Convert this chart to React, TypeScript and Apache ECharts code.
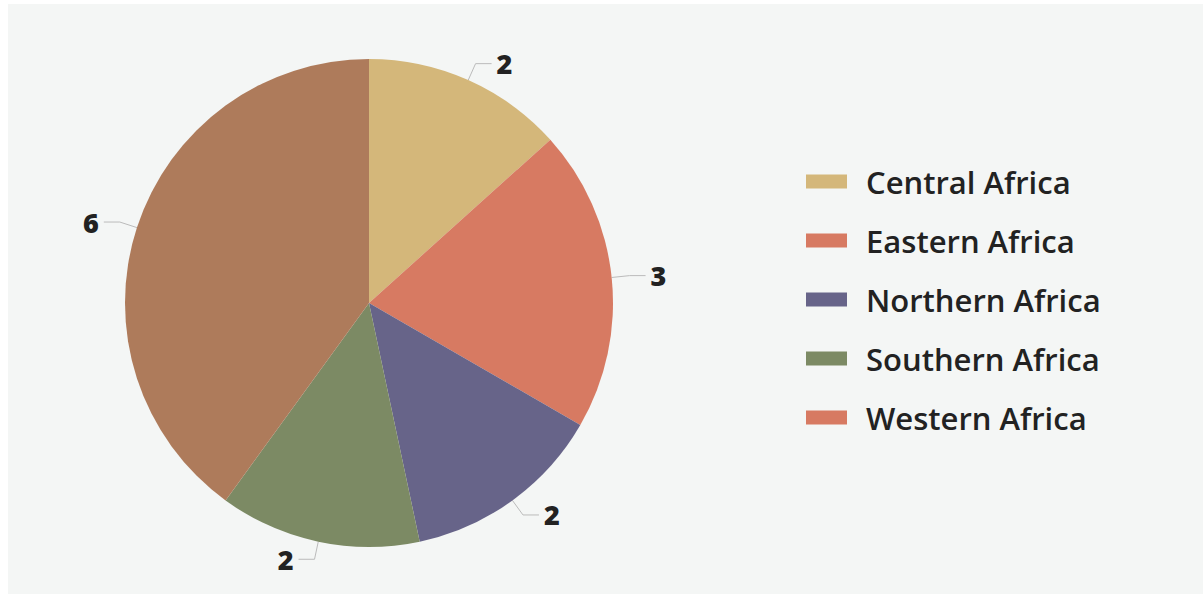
import React, { useEffect, useRef } from "react";
import * as echarts from "echarts";

const categories = ["Central Africa", "Eastern Africa", "Northern Africa", "Southern Africa", "Western Africa"];
const values = [2, 3, 2, 2, 6];
const sliceColors = ["#D4B77A", "#D77A62", "#676489", "#7C8A64", "#AE7B5B"];
const legendColors = ["#D4B77A", "#D77A62", "#676489", "#7C8A64", "#D77A62"];

export default function App() {
  const ref = useRef<HTMLDivElement>(null);
  useEffect(() => {
    if (!ref.current) return;
    const chart = echarts.init(ref.current, undefined, { renderer: "svg" });
    chart.setOption({
      animation: false,
      backgroundColor: "#F4F6F5",
      textStyle: { fontFamily: "Open Sans" },
      legend: {
        orient: "vertical",
        left: 793,
        top: 157,
        itemWidth: 41,
        itemHeight: 14,
        itemGap: 28,
        icon: "rect",
        textStyle: { fontSize: 31, fontWeight: 600, color: "#222222", lineHeight: 30, fontFamily: "Open Sans", padding: [0, 0, 0, 14] },
        data: categories.map((name, i) => ({ name, itemStyle: { color: legendColors[i] } })),
      },
      series: [
        {
          type: "pie",
          center: [361, 299],
          radius: 244,
          startAngle: 90,
          clockwise: true,
          data: categories.map((name, i) => ({ name, value: values[i], itemStyle: { color: sliceColors[i] } })),
          label: {
            show: true,
            formatter: "{c}",
            fontSize: 27,
            fontWeight: 800,
            color: "#222222",
            fontFamily: "Open Sans",
          },
          labelLine: { show: true, length: 18, length2: 16, lineStyle: { color: "#BBBBBB", width: 1 } },
          emphasis: { disabled: true },
        },
      ],
    });
    return () => chart.dispose();
  }, []);
  return <div ref={ref} style={{ position: "fixed", left: 8, top: 4, width: 1195, height: 590 }} />;
}
